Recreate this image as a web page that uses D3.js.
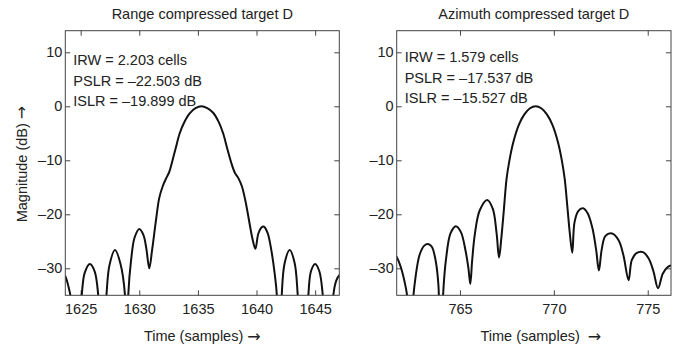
<!DOCTYPE html>
<html>
<head>
<meta charset="utf-8">
<script src="https://cdn.jsdelivr.net/npm/d3@7"></script>
<style>
  html, body { margin: 0; padding: 0; background: #fff; }
  svg { display: block; font-family: "Liberation Sans", Arial, Helvetica, sans-serif; }
</style>
</head>
<body>
<svg id="chart" width="686" height="346"></svg>
<script>
// ---------------- data ----------------
const rangeTitle = "Range compressed target D";
const azimuthTitle = "Azimuth compressed target D";
const rangeStats = ["IRW = 2.203 cells", "PSLR = \u201322.503 dB", "ISLR = \u201319.899 dB"];
const azimuthStats = ["IRW = 1.579 cells", "PSLR = \u201317.537 dB", "ISLR = \u201315.527 dB"];

const yTicks = [-30, -20, -10, 0, 10];
const yTickLabels = ["\u201330", "\u201320", "\u201310", "0", "10"];
const rangeXTicks = [1625, 1630, 1635, 1640, 1645];
const azimuthXTicks = [765, 770, 775];

const rangeSamples = [1623.5, 1623.7, 1623.95, 1624.23, 1624.6, 1624.9, 1625.09, 1625.35, 1625.79, 1626.2,
  1626.5, 1626.65, 1626.85, 1627.05, 1627.2, 1627.45, 1627.93, 1628.4, 1628.78, 1628.92,
  1629.06, 1629.3, 1629.6, 1630.0, 1630.35, 1630.6, 1630.85, 1631.1, 1631.4, 1631.7,
  1632.0, 1632.3, 1632.55, 1632.8, 1633.1, 1633.45, 1633.85, 1634.3, 1634.8, 1635.3,
  1635.8, 1636.3, 1636.75, 1637.15, 1637.5, 1637.85, 1638.15, 1638.45, 1638.75, 1639.05,
  1639.35, 1639.65, 1639.9, 1640.15, 1640.4, 1640.64, 1640.95, 1641.25, 1641.55, 1641.75,
  1641.95, 1642.15, 1642.4, 1642.83, 1643.25, 1643.5, 1643.95, 1644.42, 1644.65, 1645.0,
  1645.35, 1645.65, 1646.1, 1646.55, 1646.8, 1647.1, 1647.3];
const rangeDb = [-30.9, -31.5, -33.3, -36.5, -55, -40, -35, -30.8, -29.2, -30.6,
  -35, -40, -55, -40, -35, -29.5, -26.6, -29.2, -35, -55,
  -35, -28.5, -24.3, -22.7, -23.8, -26.3, -30, -26.5, -21.5, -17,
  -14.8, -13.3, -12.2, -10.3, -7.8, -5.0, -2.9, -1.3, -0.35, 0,
  -0.35, -1.2, -2.8, -5.0, -7.8, -10.5, -12.3, -13.3, -14.8, -17.5,
  -21, -24.5, -26.4, -23.6, -22.5, -22.3, -23.5, -26.5, -31, -35.5,
  -55, -35, -29, -26.6, -29, -34.5, -55, -35, -30.5, -29.2,
  -30.5, -35, -55, -35, -32.3, -31.2, -31];

const azimuthSamples = [761.5, 761.63, 761.85, 762.05, 762.2, 762.35, 762.5, 762.62, 762.85, 763.1,
  763.3, 763.5, 763.7, 763.85, 763.97, 764.1, 764.25, 764.5, 764.78, 765.05,
  765.3, 765.45, 765.55, 765.65, 765.8, 766.05, 766.45, 766.75, 766.95, 767.08,
  767.2, 767.33, 767.48, 767.63, 767.83, 768.13, 768.43, 768.73, 769.03, 769.33,
  769.63, 769.93, 770.23, 770.43, 770.58, 770.73, 770.85, 770.98, 771.1, 771.3,
  771.55, 771.8, 772.05, 772.25, 772.4, 772.55, 772.75, 773.1, 773.45, 773.7,
  773.98, 774.15, 774.4, 774.75, 775.05, 775.3, 775.55, 775.8, 776.05, 776.24, 776.4];
const azimuthDb = [-27.3, -27.9, -29.8, -32.5, -35.5, -50, -36, -32, -27.5, -25.8,
  -25.5, -26, -28.5, -33, -50, -35, -28.5, -23.5, -22.2, -23.3,
  -26.8, -30, -32.9, -28.5, -23.5, -19.3, -17.35, -19, -23.5, -28,
  -24.5, -19.5, -13.5, -10.1, -6.8, -3.5, -1.5, -0.36, 0, -0.36,
  -1.5, -3.5, -6.8, -10.1, -13.5, -19, -23.5, -27.1, -21.5, -19.4,
  -18.9, -19.8, -22.5, -26.5, -30.4, -26.5, -24, -23.55, -24.8, -27.5,
  -32.2, -28.5, -27.2, -27, -28.2, -30.5, -33.7, -31, -29.8, -29.5, -29.7];

// ---------------- layout ----------------
const svg = d3.select("#chart");
const plotTop = 30.7, plotBottom = 295.3;
const yDomain = [-35, 14];

const panels = [
  { id: "range", left: 65.3, right: 339.3, xDomain: [1623.69, 1647.06], xTicks: rangeXTicks,
    xs: rangeSamples, ys: rangeDb, title: rangeTitle, stats: rangeStats, statsY: 65,
    xlabel: "Time (samples) ", xlabelDx: 0 },
  { id: "azimuth", left: 396.7, right: 671, xDomain: [761.63, 776.24], xTicks: azimuthXTicks,
    xs: azimuthSamples, ys: azimuthDb, title: azimuthTitle, stats: azimuthStats, statsY: 62,
    xlabel: "Time (samples)\u00a0\u00a0", xlabelDx: 7 }
];

const tickLen = 5;
const axisColor = "#444";
const textColor = "#222";
const arrowFont = "'DejaVu Sans', sans-serif";

panels.forEach(p => {
  const x = d3.scaleLinear().domain(p.xDomain).range([p.left, p.right]);
  const y = d3.scaleLinear().domain(yDomain).range([plotBottom, plotTop]);
  const g = svg.append("g");

  svg.append("clipPath").attr("id", "clip-" + p.id)
    .append("rect").attr("x", p.left).attr("y", plotTop)
    .attr("width", p.right - p.left).attr("height", plotBottom - plotTop);

  const bottomAxis = d3.axisBottom(x).tickValues(p.xTicks).tickSize(-tickLen).tickPadding(8).tickFormat(d3.format("d"));
  const topAxis = d3.axisTop(x).tickValues(p.xTicks).tickSize(-tickLen).tickFormat("");
  const leftAxis = d3.axisLeft(y).tickValues(yTicks).tickSize(-tickLen).tickPadding(3)
    .tickFormat((d, i) => yTickLabels[i]);
  const rightAxis = d3.axisRight(y).tickValues(yTicks).tickSize(-tickLen).tickFormat("");

  const styleAxis = sel => {
    sel.select(".domain").remove();
    sel.selectAll(".tick line").attr("stroke", axisColor).attr("stroke-width", 1);
    sel.selectAll(".tick text").attr("fill", textColor).style("font-size", "14.5px")
      .style("font-family", "'Liberation Sans', Arial, sans-serif");
  };
  g.append("g").attr("transform", `translate(0,${plotBottom})`).call(bottomAxis).call(styleAxis);
  g.append("g").attr("transform", `translate(0,${plotTop})`).call(topAxis).call(styleAxis);
  g.append("g").attr("transform", `translate(${p.left},0)`).call(leftAxis).call(styleAxis);
  g.append("g").attr("transform", `translate(${p.right},0)`).call(rightAxis).call(styleAxis);

  const pts = p.xs.map((v, i) => [v, p.ys[i]]);
  const line = d3.line().x(d => x(d[0])).y(d => y(d[1])).curve(d3.curveCatmullRom.alpha(0.5));
  g.append("path").datum(pts).attr("d", line)
    .attr("clip-path", `url(#clip-${p.id})`)
    .attr("fill", "none").attr("stroke", "#111").attr("stroke-width", 2)
    .attr("stroke-linejoin", "round");

  g.append("rect").attr("x", p.left).attr("y", plotTop)
    .attr("width", p.right - p.left).attr("height", plotBottom - plotTop)
    .attr("fill", "none").attr("stroke", axisColor).attr("stroke-width", 1);

  g.append("text").attr("x", (p.left + p.right) / 2).attr("y", 18.5)
    .attr("text-anchor", "middle").attr("fill", textColor).style("font-size", "14.5px")
    .text(p.title);

  p.stats.forEach((s, i) => {
    g.append("text").attr("x", p.left + 8).attr("y", p.statsY + i * 20.5)
      .attr("fill", textColor).style("font-size", "14.5px").text(s);
  });

  const xl = g.append("text").attr("x", (p.left + p.right) / 2 + p.xlabelDx).attr("y", 341)
    .attr("text-anchor", "middle").attr("fill", textColor).style("font-size", "14.5px");
  xl.append("tspan").text(p.xlabel);
  xl.append("tspan").style("font-family", arrowFont).style("font-size", "16px").attr("dy", 0.5).text("\u2192");
});

const yl = svg.append("text").attr("transform", "translate(27,164) rotate(-90)")
  .attr("text-anchor", "middle").attr("fill", textColor).style("font-size", "14.5px");
yl.append("tspan").text("Magnitude (dB) ");
yl.append("tspan").style("font-family", arrowFont).style("font-size", "16px").text("\u2192");
</script>
</body>
</html>
